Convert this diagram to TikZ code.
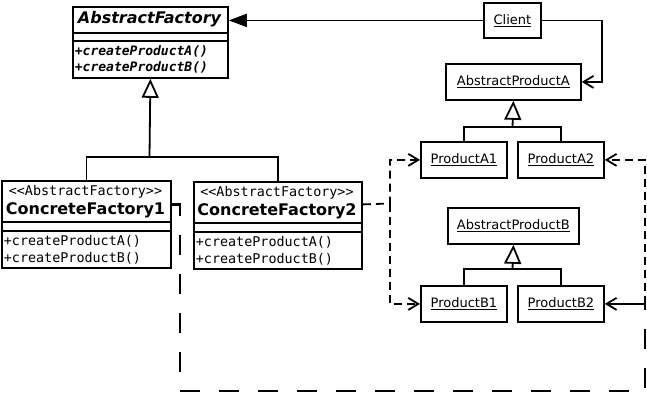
\documentclass[tikz,border=0pt]{standalone}
\usepackage{fontspec}
\setsansfont{DejaVu Sans}
\setmonofont{DejaVu Sans Mono}
\usetikzlibrary{arrows.meta,positioning,calc}

\begin{document}
\begin{tikzpicture}[x=1pt,y=-1pt,line width=1.8pt,
   box/.style={draw,anchor=north west,inner sep=0pt},
   sans/.style={font=\sffamily\fontsize{13}{15}\selectfont,inner sep=0pt},
   mono/.style={font=\ttfamily\fontsize{13.4}{17}\selectfont,inner sep=0pt,align=left},
   big/.style={font=\sffamily\bfseries\fontsize{16}{18}\selectfont,inner sep=0pt},
   gen/.style={-{Triangle[open,length=19pt,width=17pt]}},
   uses/.style={-{Straight Barb[length=10pt,width=12pt]}},
   dep/.style={uses,dash pattern=on 8pt off 5pt},
   bigdep/.style={line width=2.6pt,dash pattern=on 20pt off 19pt}]
  \useasboundingbox (0,0) rectangle (647,407);

  % factories
  \node[box,minimum width=155pt,minimum height=71pt] (af) at (72,6) {};
  \node[big] (afname) at (149.5,19.5) {\itshape AbstractFactory};
  \draw (af.west |- 0,33) -- (af.east |- 0,33);
  \draw (af.west |- 0,41) -- (af.east |- 0,41);
  \node[mono,anchor=west,font=\ttfamily\bfseries\itshape\fontsize{13}{16}\selectfont] (afops) at (74,59) {+createProductA()\\+createProductB()};

  \node[box,minimum width=169pt,minimum height=87pt] (cf1) at (1,180) {};
  \node[mono] (cf1st) at (85.5,192) {{<}{<}AbstractFactory{>}{>}};
  \node[big] (cf1name) at (85.5,210) {ConcreteFactory1};
  \draw (cf1.west |- 0,222) -- (cf1.east |- 0,222);
  \draw (cf1.west |- 0,231) -- (cf1.east |- 0,231);
  \node[mono,anchor=west] (cf1ops) at (3,249.5) {+createProductA()\\+createProductB()};

  \node[box,minimum width=168pt,minimum height=87pt] (cf2) at (193,181) {};
  \node[mono] (cf2st) at (277,193) {{<}{<}AbstractFactory{>}{>}};
  \node[big] (cf2name) at (277,211) {ConcreteFactory2};
  \draw (cf2.west |- 0,223) -- (cf2.east |- 0,223);
  \draw (cf2.west |- 0,232) -- (cf2.east |- 0,232);
  \node[mono,anchor=west] (cf2ops) at (195,250.5) {+createProductA()\\+createProductB()};

  % client and products
  \node[box,sans,minimum width=57pt,minimum height=35pt] (cl) at (483,2) {\underline{Client}};
  \node[box,sans,minimum width=135pt,minimum height=36pt] (apa) at (445,63) {\underline{AbstractProductA}};
  \node[box,sans,minimum width=86pt,minimum height=36pt] (pa1) at (420,141) {\underline{ProductA1}};
  \node[box,sans,minimum width=86pt,minimum height=36pt] (pa2) at (517,141) {\underline{ProductA2}};
  \node[box,sans,minimum width=131pt,minimum height=36pt] (apb) at (447,207) {\underline{AbstractProductB}};
  \node[box,sans,minimum width=86pt,minimum height=36pt] (pb1) at (420,285) {\underline{ProductB1}};
  \node[box,sans,minimum width=86pt,minimum height=36pt] (pb2) at (517,285) {\underline{ProductB2}};

  % inheritance
  \coordinate (jf) at (149.5,157);
  \draw (cf1.north) |- (jf) -| (cf2.north);
  \draw[gen] (jf) -- (af.south);
  \coordinate (ja) at (512.5,127);
  \draw (pa1.north) |- (ja) -| (pa2.north);
  \draw[gen] (ja) -- (apa.south);
  \coordinate (jb) at (512.5,269);
  \draw (pb1.north) |- (jb) -| (pb2.north);
  \draw[gen] (jb) -- (apb.south);

  % associations
  \draw[-{Triangle[length=18pt,width=13pt]}] (cl.west) -- (cl.west -| af.east);
  \draw[uses] (cl.east) -| ([xshift=20pt]apa.east) -- (apa.east);

  % creates
  \coordinate (jl) at (390,203.5);
  \draw[dep] ([yshift=21pt]cf2.east) -- (jl) |- (pa1.west);
  \draw[dep] (jl) |- (pb1.west);
  \coordinate (lc) at (180,391);
  \coordinate (jr) at ([xshift=40pt]pb2.east);
  \draw[bigdep] ([yshift=20pt]cf1.east) -| (lc) -| (jr);
  \draw[uses] (jr) -- (pb2.east);
  \draw[dep] (jr) |- (pa2.east);
\end{tikzpicture}
\end{document}
